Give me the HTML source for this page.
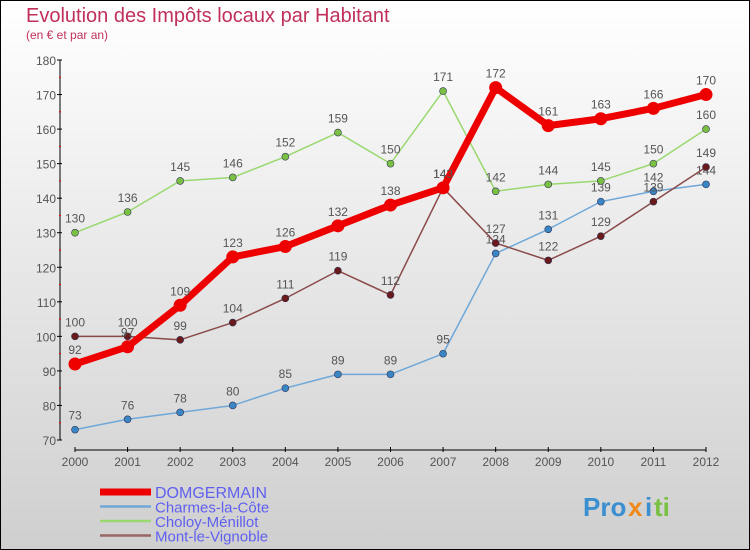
<!DOCTYPE html>
<html><head><meta charset="utf-8"><style>
body{margin:0}
#c{width:750px;height:550px;position:relative;box-sizing:border-box;border:1px solid #000;background:linear-gradient(#ffffff,#cfcfcf);font-family:"Liberation Sans",sans-serif;overflow:hidden}
</style></head><body>
<div id="c">
<svg id="s" width="750" height="550" style="position:absolute;left:-1px;top:-1px">
<text x="26" y="22" font-size="20" fill="#c0305a">Evolution des Impôts locaux par Habitant</text>
<text x="26" y="39" font-size="12" fill="#c0305a">(en € et par an)</text>
<g id="axes"></g><g id="series"></g><g id="legend"></g>
<g font-size="26" font-weight="bold">
<text x="583" y="516" fill="#3a8fd0">Pro</text><text x="628" y="516" fill="#f08a1a">x</text><text x="645" y="516" fill="#3a8fd0">i</text><text x="654" y="516" fill="#7ac043">ti</text>
</g>
</svg>
</div>
<script>
const years=["2000","2001","2002","2003","2004","2005","2006","2007","2008","2009","2010","2011","2012"];
const yTicks=[70,80,90,100,110,120,130,140,150,160,170,180];
const names=["DOMGERMAIN","Charmes-la-Côte","Choloy-Ménillot","Mont-le-Vignoble"];
const dom=[92,97,109,123,126,132,138,143,172,161,163,166,170];
const charmes=[73,76,78,80,85,89,89,95,124,131,139,142,144];
const choloy=[130,136,145,146,152,159,150,171,142,144,145,150,160];
const mont=[100,100,99,104,111,119,112,143,127,122,129,139,149];
const NS="http://www.w3.org/2000/svg";
const x=i=>75+i*(706-75)/12;
const y=v=>440-(v-70)*380/110;
function mk(t,a,p){const e=document.createElementNS(NS,t);for(const k in a)e.setAttribute(k,a[k]);p.appendChild(e);return e;}
const ax=document.getElementById('axes');
const yl=mk('line',{x1:60,y1:y(180),x2:60,y2:y(70),stroke:'#000'},ax);


yTicks.forEach(v=>{mk('line',{x1:57,x2:62,y1:y(v),y2:y(v),stroke:'#000'},ax);
if(v<180)mk('line',{x1:59,x2:61,y1:y(v+5),y2:y(v+5),stroke:'#e00'},ax);
const t=mk('text',{x:56,y:y(v)+5,'text-anchor':'end','font-size':12,fill:'#555'},ax);t.textContent=v;

});
const xl=mk('line',{x1:75,y1:450,x2:706,y2:450,stroke:'#000'},ax);


years.forEach((yr,i)=>{mk('line',{x1:x(i),x2:x(i),y1:447,y2:452,stroke:'#000'},ax);
const t=mk('text',{x:x(i),y:466,'text-anchor':'middle','font-size':12,fill:'#555'},ax);t.textContent=yr;

});
const sg=document.getElementById('series');
const specs=[[charmes,'#6fa8d8','#3a86c4',1.5,3.5,'charmes'],[choloy,'#9ad870','#7ac043',1.5,3.5,'choloy'],[mont,'#8a4a4a','#6a1a1a',1.5,3.5,'mont'],[dom,'#ee0000','#ee0000',7,6.5,'domgermain']];
specs.forEach(([d,lc,pc,w,r,n])=>{
const pl=mk('polyline',{points:d.map((v,i)=>x(i)+','+y(v)).join(' '),fill:'none',stroke:lc,'stroke-width':w,'stroke-linejoin':'round'},sg);


d.forEach((v,i)=>{const c=mk('circle',{cx:x(i),cy:y(v),r:r,fill:pc,stroke:n=='domgermain'?'none':'#335',"stroke-width":0.6},sg);


const t=mk('text',{x:x(i),y:y(v)-10,'text-anchor':'middle','font-size':12,fill:'#555'},sg);t.textContent=v;

});});
const lg=document.getElementById('legend');
const lcols=['#ee0000','#6fa8d8','#9ad870','#996666'],lw=[7,2.5,2.5,2.5];
names.forEach((nm,i)=>{const yy=492+i*14.5;
mk('line',{x1:100,x2:151,y1:yy,y2:yy,stroke:lcols[i],'stroke-width':lw[i]},lg);
const t=mk('text',{x:155,y:yy+6,'font-size':i==0?16:15,fill:'#6060f0'},lg);t.textContent=nm;

});
</script>
</body></html>
